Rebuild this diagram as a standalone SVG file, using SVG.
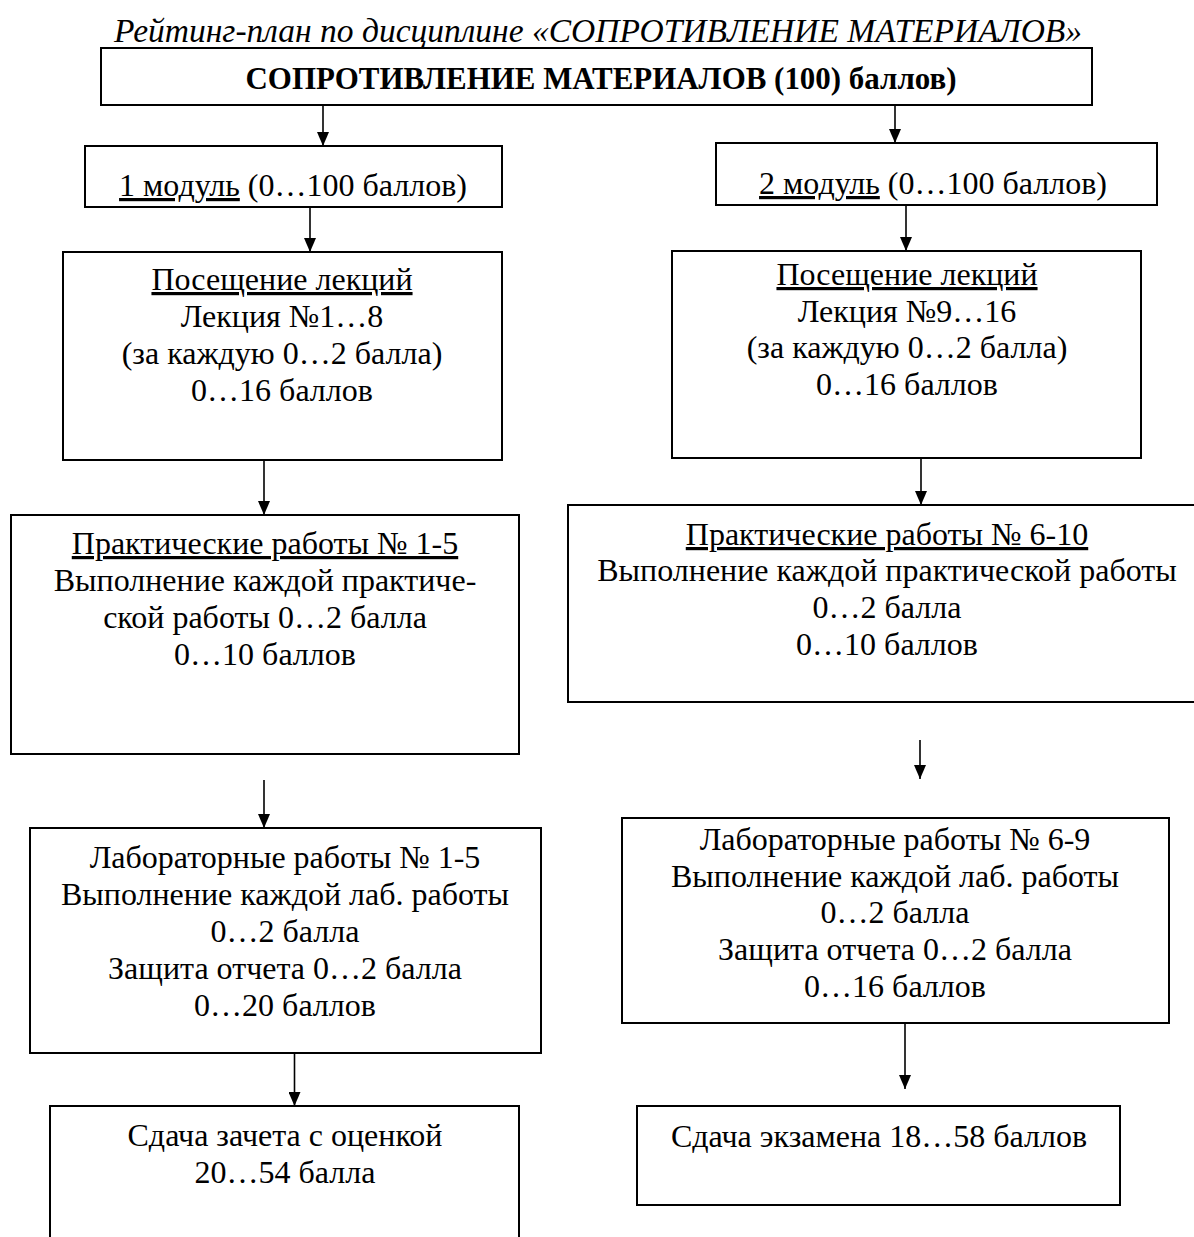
<svg xmlns="http://www.w3.org/2000/svg" width="1194" height="1237" viewBox="0 0 1194 1237">
<style>
  .box { fill: #fff; stroke: #000; stroke-width: 2; }
  .t { font-family: "Liberation Serif", "Times New Roman", serif; font-size: 32px; fill: #000; text-anchor: middle; }
  .u { text-decoration: underline; }
  .title { font-family: "Liberation Serif", "Times New Roman", serif; font-size: 33.5px; font-style: italic; fill: #000; text-anchor: middle; }
  .bold { font-family: "Liberation Serif", "Times New Roman", serif; font-size: 32px; font-weight: bold; fill: #000; text-anchor: middle; }
  .conn line { stroke: #000; stroke-width: 1.6; marker-end: url(#ah); }
</style>
<defs>
  <marker id="ah" markerUnits="userSpaceOnUse" markerWidth="14" markerHeight="12" refX="14" refY="6" orient="auto">
    <path d="M0,0 L14,6 L0,12 z" fill="#000"/>
  </marker>
</defs>
<rect x="0" y="0" width="1194" height="1237" fill="#fff"/>

<text class="title" x="598" y="42">Рейтинг-план по дисциплине «СОПРОТИВЛЕНИЕ МАТЕРИАЛОВ»</text>

<g id="n_top">
  <rect class="box" x="101" y="48" width="991" height="57"/>
  <text class="bold" x="601" y="89" textLength="711" lengthAdjust="spacingAndGlyphs">СОПРОТИВЛЕНИЕ МАТЕРИАЛОВ (100) баллов)</text>
</g>

<g id="n_m1">
  <rect class="box" x="85" y="146" width="417" height="61"/>
  <text class="t" x="293" y="196"><tspan class="u">1 модуль</tspan> (0…100 баллов)</text>
</g>

<g id="n_m2">
  <rect class="box" x="716" y="143" width="441" height="62"/>
  <text class="t" x="933" y="194"><tspan class="u">2 модуль</tspan> (0…100 баллов)</text>
</g>

<g id="n_l1">
  <rect class="box" x="63" y="252" width="439" height="208"/>
  <text class="t" x="282" y="290"><tspan class="u">Посещение лекций</tspan></text>
  <text class="t" x="282" y="327">Лекция №1…8</text>
  <text class="t" x="282" y="364">(за каждую 0…2 балла)</text>
  <text class="t" x="282" y="401">0…16 баллов</text>
</g>

<g id="n_l2">
  <rect class="box" x="672" y="251" width="469" height="207"/>
  <text class="t" x="907" y="285"><tspan class="u">Посещение лекций</tspan></text>
  <text class="t" x="907" y="322">Лекция №9…16</text>
  <text class="t" x="907" y="358">(за каждую 0…2 балла)</text>
  <text class="t" x="907" y="395">0…16 баллов</text>
</g>

<g id="n_p1">
  <rect class="box" x="11" y="515" width="508" height="239"/>
  <text class="t" x="265" y="554"><tspan class="u">Практические работы № 1-5</tspan></text>
  <text class="t" x="265" y="591">Выполнение каждой практиче-</text>
  <text class="t" x="265" y="628">ской работы 0…2 балла</text>
  <text class="t" x="265" y="665">0…10 баллов</text>
</g>

<g id="n_p2">
  <rect class="box" x="568" y="505" width="640" height="197"/>
  <text class="t" x="887" y="545"><tspan class="u">Практические работы № 6-10</tspan></text>
  <text class="t" x="887" y="581">Выполнение каждой практической работы</text>
  <text class="t" x="887" y="618">0…2 балла</text>
  <text class="t" x="887" y="655">0…10 баллов</text>
</g>

<g id="n_lab1">
  <rect class="box" x="30" y="828" width="511" height="225"/>
  <text class="t" x="285" y="868">Лабораторные работы № 1-5</text>
  <text class="t" x="285" y="905">Выполнение каждой лаб. работы</text>
  <text class="t" x="285" y="942">0…2 балла</text>
  <text class="t" x="285" y="979">Защита отчета 0…2 балла</text>
  <text class="t" x="285" y="1016">0…20 баллов</text>
</g>

<g id="n_lab2">
  <rect class="box" x="622" y="818" width="547" height="205"/>
  <text class="t" x="895" y="850">Лабораторные работы № 6-9</text>
  <text class="t" x="895" y="887">Выполнение каждой лаб. работы</text>
  <text class="t" x="895" y="923">0…2 балла</text>
  <text class="t" x="895" y="960">Защита отчета 0…2 балла</text>
  <text class="t" x="895" y="997">0…16 баллов</text>
</g>

<g id="n_f1">
  <rect class="box" x="50" y="1106" width="469" height="150"/>
  <text class="t" x="285" y="1146">Сдача зачета с оценкой</text>
  <text class="t" x="285" y="1183">20…54 балла</text>
</g>

<g id="n_f2">
  <rect class="box" x="637" y="1106" width="483" height="99"/>
  <text class="t" x="879" y="1147">Сдача экзамена 18…58 баллов</text>
</g>

<g id="connectors" class="conn">
  <line x1="323" y1="105" x2="323" y2="146"/>
  <line x1="895" y1="105" x2="895" y2="143"/>
  <line x1="310" y1="207" x2="310" y2="252"/>
  <line x1="906" y1="205" x2="906" y2="251"/>
  <line x1="264" y1="460" x2="264" y2="515"/>
  <line x1="921" y1="458" x2="921" y2="505"/>
  <line x1="264" y1="780" x2="264" y2="828"/>
  <line x1="920" y1="740" x2="920" y2="779"/>
  <line x1="294.5" y1="1053" x2="294.5" y2="1106"/>
  <line x1="905" y1="1023" x2="905" y2="1089"/>
</g>
</svg>
